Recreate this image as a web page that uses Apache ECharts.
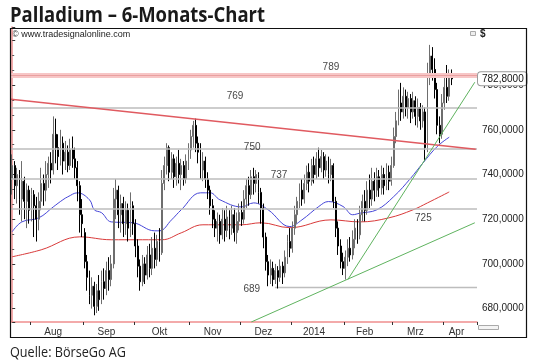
<!DOCTYPE html>
<html><head><meta charset="utf-8">
<script src="https://cdn.jsdelivr.net/npm/echarts@6/dist/echarts.min.js"></script>
<style>html,body{margin:0;padding:0;background:#fff}#c{width:540px;height:362px}</style>
</head><body><div id="c"></div>
<script>
// ---------- data ----------
const opens = [738,744,735,740,729,737,728,733,724,731,
726,720,728,736,733,740,745,742,758,752,
748,754,746,750,744,751,747,743,735,722,
714,701,694,686,690,681,688,684,692,689,
697,693,700,729,733,722,727,718,724,716,
726,718,708,699,692,700,695,704,698,707,
702,710,705,736,744,752,741,747,739,745,
740,744,738,746,751,757,762,754,750,742,
746,738,733,726,720,716,719,713,720,715,
721,716,722,714,719,723,720,729,735,731,
739,736,740,732,725,712,701,695,698,693,
697,694,699,696,703,710,707,716,722,728,
733,729,736,741,737,744,740,747,743,748,
742,746,740,744,728,716,708,701,698,703,
707,704,711,716,713,722,728,724,733,729,
737,733,739,734,740,735,741,737,744,757,
764,772,768,775,770,774,768,773,766,770,
764,768,752,785,793,787,778,762,758,772,
779,775,784];
const closes = [744,735,740,729,737,728,733,724,731,726,
720,728,736,733,740,745,742,758,752,748,
754,746,750,744,751,747,743,735,722,718,
701,694,686,690,681,688,684,692,689,697,
693,700,729,733,722,727,718,724,716,726,
718,708,699,692,700,695,704,698,707,702,
710,705,736,744,752,741,747,739,745,740,
744,738,746,751,757,762,754,750,742,746,
738,733,726,720,716,719,713,720,715,721,
716,722,714,719,723,720,729,735,731,739,
736,740,732,725,712,701,695,698,693,697,
694,699,696,703,710,707,716,722,728,733,
729,736,741,737,744,740,747,743,748,742,
746,740,744,728,716,708,701,698,703,707,
704,711,716,713,722,728,724,733,729,737,
733,739,734,740,735,741,737,744,757,764,
772,768,775,770,774,768,773,766,770,764,
768,752,785,793,787,778,762,758,772,779,
775,784,782.8];
const lows = [731,729,727,722,719,720,716,718,719,712,
710,715,724,726,728,734,736,740,745,742,
744,740,742,741,742,743,738,728,714,712,
698,688,682,680,677,678,679,682,684,686,
688,690,698,720,716,714,712,713,710,712,
713,703,694,688,690,691,693,694,695,698,
699,701,704,733,740,737,738,734,735,736,
733,735,736,742,747,752,750,745,738,737,
734,729,722,716,712,710,709,711,710,712,
711,713,710,709,715,717,718,725,726,729,
731,732,727,718,707,697,690,691,690,691,
689,692,691,694,700,703,705,713,718,725,
726,727,733,732,735,736,738,739,741,738,
739,736,737,725,712,704,698,695,693,699,
701,702,707,709,711,719,719,722,725,726,
728,730,730,731,731,733,733,735,743,754,
762,764,765,766,765,763,765,762,761,760,
761,746,750,780,782,774,758,754,756,769,
772,773,780];
const highs = [749,746,743,742,746,739,736,735,734,733,
730,732,743,740,746,748,750,766,765,758,
760,757,755,753,756,757,752,746,737,729,
716,704,697,694,692,691,695,697,698,701,
703,704,734,738,735,731,730,728,727,732,
728,720,711,702,704,703,708,709,712,714,
713,716,742,748,754,753,750,749,748,751,
747,746,749,754,760,764,765,757,754,750,
748,741,735,729,724,723,722,725,724,726,
724,726,725,723,727,728,733,738,739,742,
743,742,741,734,727,714,704,702,701,700,
699,702,701,706,713,716,719,726,730,736,
738,740,744,745,747,748,750,752,751,750,
749,748,747,745,730,719,711,705,706,711,
712,715,720,720,726,731,733,737,740,743,
741,743,742,744,743,745,744,748,761,768,
778,781,779,778,777,776,777,775,774,772,
771,770,790,798,797,792,781,766,776,784,
789,787,787];
// moving averages: [bar index, value]
const blueMA = [[0,714.4],[4,718.8],[11,720.6],[17,725.5],[21,728.7],[23,730],[27,731.8],[32,728.7],[34,724.2],[37,722.9],[41,718.8],[50,718.4],[59,714.8],[61,714.8],[66,719.7],[70,724.2],[78,731.8],[82,731.8],[86,728.7],[95,725.5],[100,727.3],[106,724.2],[115,716.7],[120,719.7],[127,725.7],[131,727.9],[137,725.7],[141,722],[144,722.7],[151,724.2],[158,730.1],[165,738.3],[170,745],[176,752.5],[181,756.7]];
const redMA = [[0,703.2],[12,706.3],[28,712.1],[41,710.8],[62,710.8],[70,713.9],[79,717.5],[95,717.5],[103,718.4],[115,716.2],[132,719.7],[144,718.8],[156,720.6],[166,724.2],[172,727.3],[181,732.2]];
// trend lines [bar index, value]
const resistanceLine = [[-0.5,773.7],[192,751.3]];
const supportLineLong = [[99,674],[191.6,718.4]];
const supportLineSteep = [[139,693],[191.6,781.3]];
// horizontal levels (as drawn) and their captions
const bandLevel = 784.5;
const grayLevels = [769.7, 751.3, 737.9, 724.5];
const level689 = [[108.8,689.4],[192.5,689.4]];
const levelCaptions = [[132,788,'789'],[92.3,775.1,'769'],[99.4,752.2,'750'],[110.5,739.5,'737'],[170.3,720.6,'725'],[99.2,688.6,'689']];
const lastPrice = 782.8;
const maxLabelled = 780;
const monthLabels = ['Aug','Sep','Okt','Nov','Dez','2014','Feb','Mrz','Apr'];
const holidays = ['2013-12-25','2014-01-01'];
const nSlots = 193;

// ---------- categories (trading days) ----------
function buildDates(){
  const out=[]; const d=new Date(Date.UTC(2013,6,22));
  while(out.length<nSlots){
    const wd=d.getUTCDay(); const s=d.toISOString().slice(0,10);
    if(wd!==0&&wd!==6&&holidays.indexOf(s)<0) out.push(s);
    d.setUTCDate(d.getUTCDate()+1);
  }
  return out;
}
const dates = buildDates();
const monthStarts = [];
for(let k=1;k<dates.length;k++){ if(dates[k].slice(0,7)!==dates[k-1].slice(0,7)) monthStarts.push(k); }
const labelAt = {};
monthStarts.forEach((s,j)=>{
  const e = j+1<monthStarts.length ? monthStarts[j+1] : nSlots;
  const len = e-s;
  const idx = (j===monthStarts.length-1) ? s+Math.floor(len*0.4) : s+Math.round(len/2)-2;
  labelAt[idx] = monthLabels[j];
});
const startSet = new Set(monthStarts);

const candles = opens.map((o,k)=>[o, closes[k], lows[k], highs[k]]);

function fitScale(text, font, target){
  const ctx=document.createElement('canvas').getContext('2d'); ctx.font=font;
  return target/ctx.measureText(text).width;
}
const titleText='Palladium \u2013 6-Monats-Chart';
const titleFont='bold 22px "Open Sans"';
const srcText='Quelle: B\u00f6rseGo AG';
const srcFont='14px "Open Sans"';

const chart = echarts.init(document.getElementById('c'), null, {renderer:'canvas'});
const FF = '"Liberation Sans", Arial, sans-serif';
const grayLine = {color:'#bdbdbd', width:1.5, type:'solid'};

chart.setOption({
  animation:false,
  backgroundColor:'#fff',
  grid:{left:11, right:63, top:27, bottom:40, containLabel:false},
  xAxis:[{
    type:'category', data:dates, boundaryGap:true,
    axisLine:{onZero:false, lineStyle:{color:'#ef8f8f', width:1.5}},
    axisTick:{show:true, interval:(i)=>startSet.has(i), length:3, lineStyle:{color:'#333'}},
    axisLabel:{interval:(i)=>labelAt[i]!==undefined, formatter:(v,i)=>labelAt[i]||'', fontSize:10, color:'#333', fontFamily:FF, margin:5},
    splitLine:{show:false}
  },{
    type:'value', min:-0.5, max:nSlots-0.5, show:false
  }],
  yAxis:{
    type:'value', position:'right', min:674, max:806, minInterval:20, maxInterval:20, splitNumber:7,
    axisLine:{show:true, lineStyle:{color:'#ef8f8f', width:1.5}},
    axisTick:{show:true, length:3, lineStyle:{color:'#333'}},
    minorTick:{show:true, splitNumber:3, length:2, lineStyle:{color:'#555'}},
    axisLabel:{formatter:(v)=> (Math.abs(v%20)<1e-6 && v<=maxLabelled ? v.toFixed(4).replace('.',',') : ''), fontSize:10, color:'#222', fontFamily:FF, margin:5},
    splitLine:{show:false}
  },
  series:[
    {type:'line', xAxisIndex:1, data:[], silent:true,
     markLine:{silent:true, symbol:['none','none'], animation:false,
       data:[
         {yAxis:bandLevel, lineStyle:{color:'#f7c6c6', width:5, type:'solid'}, label:{show:false}},
         {yAxis:bandLevel, lineStyle:{color:'#e9a0a0', width:1, type:'solid'}, label:{show:false}}
       ].concat(grayLevels.map(v=>({yAxis:v, lineStyle:grayLine, label:{show:false}})))
    }},
    {type:'line', xAxisIndex:1, data:level689, showSymbol:false, silent:true, lineStyle:grayLine, z:1},
    {type:'line', xAxisIndex:1, data:redMA, smooth:0.4, showSymbol:false, silent:true, lineStyle:{color:'#d93a3a', width:1}, z:3},
    {type:'line', xAxisIndex:1, data:blueMA, smooth:0.4, showSymbol:false, silent:true, lineStyle:{color:'#4646d8', width:1}, z:3},
    {type:'candlestick', xAxisIndex:0, data:candles, barWidth:1.4, silent:true, z:4,
     itemStyle:{color:'#6e6e6e', color0:'#000', borderColor:'#6e6e6e', borderColor0:'#000', borderWidth:1}},
    {type:'line', xAxisIndex:1, data:resistanceLine, showSymbol:false, silent:true, clip:true, lineStyle:{color:'#e05a60', width:1.5}, z:5},
    {type:'line', xAxisIndex:1, data:supportLineLong, showSymbol:false, silent:true, clip:true, lineStyle:{color:'#5fb35f', width:1}, z:5},
    {type:'line', xAxisIndex:1, data:supportLineSteep, showSymbol:false, silent:true, clip:true, lineStyle:{color:'#5fb35f', width:1}, z:5},
    {type:'scatter', xAxisIndex:1, data:levelCaptions, symbolSize:0, silent:true, z:6,
     label:{show:true, position:'inside', formatter:(p)=>p.value[2], fontSize:10, color:'#111', fontFamily:FF}},
    {type:'line', xAxisIndex:1, data:[], silent:true, z:10,
     markLine:{silent:true, symbol:['none','none'], animation:false,
       data:[{yAxis:lastPrice, lineStyle:{color:'rgba(0,0,0,0)', width:0}, label:{show:true, position:'end', distance:1,
         formatter:()=>lastPrice.toFixed(4).replace('.',','), backgroundColor:'#fff', borderColor:'#9a9a9a', borderWidth:1, borderRadius:3,
         padding:[2,3,1,4], fontSize:10, color:'#111', fontFamily:FF, opacity:1}}]
    }}
  ],
  graphic:[
    {type:'text', x:10, y:16, scaleX:fitScale(titleText,titleFont,255), style:{text:titleText, font:titleFont, fill:'#1a1a1a', verticalAlign:'middle'}},
    {type:'rect', shape:{x:10.5, y:28.5, width:516, height:309}, style:{fill:'none', stroke:'#111', lineWidth:1.2}, z:100},
    {type:'text', x:12, y:35, style:{text:'\u00a9 www.tradesignalonline.com', font:'9px "Liberation Sans", Arial, sans-serif', fill:'#222', verticalAlign:'middle'}},
    {type:'text', x:480, y:34, style:{text:'$', font:'bold 10px "Liberation Sans", Arial, sans-serif', fill:'#222', verticalAlign:'middle'}},
    {type:'rect', shape:{x:470.5, y:31.5, width:5, height:4}, style:{fill:'#eee', stroke:'#aaa', lineWidth:1}},
    {type:'rect', shape:{x:478.5, y:325.5, width:20, height:4}, style:{fill:'#f4f4f4', stroke:'#aaa', lineWidth:1}},
    {type:'text', x:10, y:353, scaleX:fitScale(srcText,srcFont,116), style:{text:srcText, font:srcFont, fill:'#222', verticalAlign:'middle'}}
  ]
});
</script></body></html>
